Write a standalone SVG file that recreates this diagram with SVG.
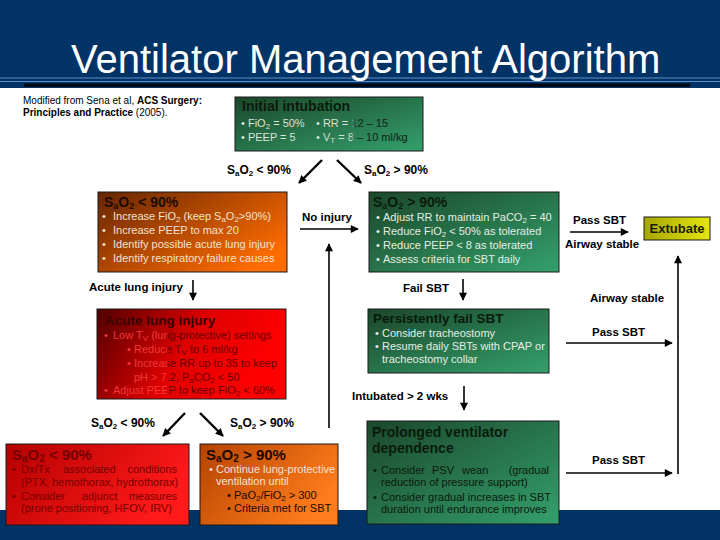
<svg xmlns="http://www.w3.org/2000/svg" width="720" height="540" viewBox="0 0 720 540">
<style>
text{font-family:"Liberation Sans",Arial,sans-serif;}
.t{font-size:11px;}
.h{font-weight:bold;font-size:14px;}
.lb{font-weight:bold;font-size:11.5px;fill:#000;}
.sa{font-weight:bold;font-size:12px;fill:#000;}
.box{stroke:#1a1a1a;stroke-width:1;}
.c{stroke:#000;stroke-width:1.6;fill:none;marker-end:url(#ah);}
.cd{stroke:#000;stroke-width:2.4;fill:none;marker-end:url(#ah);}
.lt{fill:#e4eee4;}
.dk{fill:#0b1a0e;}
.ltO{fill:#f0e2d4;}
.dkO{fill:#1c0a00;}
.rd{fill:url(#gRT);}
.rd2{fill:#760000;}
.rdh{fill:#3c0000;}
</style>
<defs>
<marker id="ah" viewBox="0 0 10 10" refX="9" refY="5" markerUnits="userSpaceOnUse" markerWidth="9" markerHeight="8" orient="auto">
<path d="M0,0 L10,5 L0,10 z" fill="#000"/>
</marker>
<linearGradient id="gG" x1="0" y1="0" x2="1" y2="1">
<stop offset="0" stop-color="#1b472a"/><stop offset="1" stop-color="#34a06c"/>
</linearGradient>
<linearGradient id="gO" x1="0" y1="0" x2="1" y2="0.7">
<stop offset="0" stop-color="#662600"/><stop offset="1" stop-color="#ff6c00"/>
</linearGradient>
<linearGradient id="gO2" x1="0" y1="0" x2="1" y2="0.5">
<stop offset="0" stop-color="#b44400"/><stop offset="1" stop-color="#ff7c1c"/>
</linearGradient>
<linearGradient id="gR" x1="0" y1="0" x2="1" y2="0.3">
<stop offset="0" stop-color="#500000"/><stop offset="0.55" stop-color="#e00000"/><stop offset="1" stop-color="#ff0000"/>
</linearGradient>
<linearGradient id="gRT" gradientUnits="userSpaceOnUse" x1="100" y1="0" x2="286" y2="0">
<stop offset="0" stop-color="#f03a3a"/><stop offset="0.36" stop-color="#f03a3a"/><stop offset="0.365" stop-color="#640000"/><stop offset="1" stop-color="#700000"/>
</linearGradient>
<linearGradient id="gR2" x1="0" y1="0" x2="1" y2="0.4">
<stop offset="0" stop-color="#b40000"/><stop offset="1" stop-color="#ff1a1a"/>
</linearGradient>
<linearGradient id="gY" x1="0" y1="0" x2="1" y2="0">
<stop offset="0" stop-color="#a6a600"/><stop offset="1" stop-color="#e6e610"/>
</linearGradient>
<linearGradient id="gTxt" gradientUnits="userSpaceOnUse" x1="240" y1="0" x2="420" y2="0">
<stop offset="0" stop-color="#e0ebe0"/><stop offset="0.62" stop-color="#d4e2d4"/><stop offset="0.64" stop-color="#12251a"/><stop offset="1" stop-color="#102014"/>
</linearGradient>
</defs>

<rect x="0" y="0" width="720" height="540" fill="#ffffff"/>
<g id="header">
<rect x="0" y="0" width="720" height="88" fill="#023366"/>
<line x1="0" y1="78" x2="720" y2="78" stroke="#5d8fc6" stroke-width="1"/>
<line x1="0" y1="81.5" x2="720" y2="81.5" stroke="#5d8fc6" stroke-width="1"/>
<rect x="24" y="83.5" width="666" height="3.5" fill="#020814"/>
<text x="71" y="73" font-size="40" fill="#ffffff">Ventilator Management Algorithm</text>
</g>
<rect id="footer" x="0" y="510" width="720" height="30" fill="#023366"/>

<g id="citation">
<text x="23" y="104" font-size="10" fill="#000">Modified from Sena et al, <tspan font-weight="bold">ACS Surgery:</tspan></text>
<text x="23" y="116" font-size="10" fill="#000"><tspan font-weight="bold">Principles and Practice</tspan> (2005).</text>
</g>

<g id="connectors">
<line class="cd" x1="322" y1="160" x2="299" y2="183"/>
<line class="cd" x1="337" y1="160" x2="361" y2="183"/>
<line class="c" x1="300" y1="229" x2="358" y2="229"/>
<line class="c" x1="329" y1="428" x2="329" y2="244"/>
<line class="c" x1="193" y1="280" x2="193" y2="300"/>
<line class="c" x1="570" y1="232" x2="628" y2="232"/>
<line class="c" x1="678" y1="474" x2="678" y2="256"/>
<line class="c" x1="463" y1="279" x2="463" y2="300"/>
<line class="cd" x1="185" y1="413" x2="163" y2="436"/>
<line class="cd" x1="200" y1="413" x2="223" y2="436"/>
<line class="c" x1="566" y1="343" x2="672" y2="343"/>
<line class="c" x1="464" y1="386" x2="464" y2="410"/>
<line class="c" x1="566" y1="473" x2="672" y2="473"/>
</g>

<g id="labels">
<text class="sa" x="227" y="174">S<tspan font-size="8" dy="2">a</tspan><tspan dy="-2">O</tspan><tspan font-size="8" dy="2">2</tspan><tspan dy="-2"> &lt; 90%</tspan></text>
<text class="sa" x="364" y="174">S<tspan font-size="8" dy="2">a</tspan><tspan dy="-2">O</tspan><tspan font-size="8" dy="2">2</tspan><tspan dy="-2"> &gt; 90%</tspan></text>
<text class="lb" x="302" y="221">No injury</text>
<text class="lb" x="89" y="291">Acute lung injury</text>
<text class="lb" x="573" y="224">Pass SBT</text>
<text class="lb" x="565" y="248">Airway stable</text>
<text class="lb" x="403" y="292">Fail SBT</text>
<text class="lb" x="590" y="302">Airway stable</text>
<text class="sa" x="91" y="427">S<tspan font-size="8" dy="2">a</tspan><tspan dy="-2">O</tspan><tspan font-size="8" dy="2">2</tspan><tspan dy="-2"> &lt; 90%</tspan></text>
<text class="sa" x="230" y="427">S<tspan font-size="8" dy="2">a</tspan><tspan dy="-2">O</tspan><tspan font-size="8" dy="2">2</tspan><tspan dy="-2"> &gt; 90%</tspan></text>
<text class="lb" x="592" y="336">Pass SBT</text>
<text class="lb" x="352" y="400">Intubated &gt; 2 wks</text>
<text class="lb" x="592" y="464">Pass SBT</text>
</g>

<g id="initial-intubation">
<rect class="box" x="235" y="97" width="188" height="54" fill="url(#gG)"/>
<text class="h dk" x="242" y="111">Initial intubation</text>
<text class="t" x="241" y="127" fill="url(#gTxt)">• FiO<tspan font-size="8" dy="2">2</tspan><tspan dy="-2"> = 50%</tspan></text>
<text class="t" x="316" y="127" fill="url(#gTxt)">• RR = 12 – 15</text>
<text class="t" x="241" y="141" fill="url(#gTxt)">• PEEP = 5</text>
<text class="t" x="316" y="141" fill="url(#gTxt)">• V<tspan font-size="8" dy="2">T</tspan><tspan dy="-2"> = 8 – 10 ml/kg</tspan></text>
</g>

<g id="sao2-low">
<rect class="box" x="98" y="192" width="189" height="80" fill="url(#gO)"/>
<text class="h dkO" x="104" y="207">S<tspan font-size="9" dy="2">a</tspan><tspan dy="-2">O</tspan><tspan font-size="9" dy="2">2</tspan><tspan dy="-2"> &lt; 90%</tspan></text>
<text class="t ltO" x="102" y="220">• <tspan x="113">Increase FiO</tspan><tspan font-size="8" dy="2">2</tspan><tspan dy="-2"> (keep S</tspan><tspan font-size="8" dy="2">a</tspan><tspan dy="-2">O</tspan><tspan font-size="8" dy="2">2</tspan><tspan dy="-2">&gt;90%)</tspan></text>
<text class="t ltO" x="102" y="234">• <tspan x="113">Increase PEEP to max 20</tspan></text>
<text class="t ltO" x="102" y="248">• <tspan x="113">Identify possible acute lung injury</tspan></text>
<text class="t ltO" x="102" y="262">• <tspan x="113">Identify respiratory failure causes</tspan></text>
</g>

<g id="sao2-high">
<rect class="box" x="369" y="192" width="190" height="80" fill="url(#gG)"/>
<text class="h dk" x="373" y="207">S<tspan font-size="9" dy="2">a</tspan><tspan dy="-2">O</tspan><tspan font-size="9" dy="2">2</tspan><tspan dy="-2"> &gt; 90%</tspan></text>
<text class="t lt" x="376" y="221">• <tspan x="383">Adjust RR to maintain PaCO</tspan><tspan font-size="8" dy="2">2</tspan><tspan dy="-2"> = 40</tspan></text>
<text class="t lt" x="376" y="235">• <tspan x="383">Reduce FiO</tspan><tspan font-size="8" dy="2">2</tspan><tspan dy="-2"> &lt; 50% as tolerated</tspan></text>
<text class="t lt" x="376" y="249">• <tspan x="383">Reduce PEEP &lt; 8 as tolerated</tspan></text>
<text class="t lt" x="376" y="263">• <tspan x="383">Assess criteria for SBT daily</tspan></text>
</g>

<g id="extubate">
<rect class="box" x="644" y="217" width="66" height="23" fill="url(#gY)"/>
<text x="677" y="233" font-size="13" font-weight="bold" fill="#1a1a00" text-anchor="middle">Extubate</text>
</g>

<g id="acute-lung-injury">
<rect class="box" x="97" y="309" width="189" height="90" fill="url(#gR)"/>
<text class="rdh" x="105" y="325" font-size="13.5" font-weight="bold">Acute lung injury</text>
<text class="t rd" x="104" y="339">• <tspan x="113">Low T</tspan><tspan font-size="8" dy="2">V</tspan><tspan dy="-2"> (lung-protective) settings</tspan></text>
<text class="t rd" x="127" y="353">• <tspan x="134">Reduce T</tspan><tspan font-size="8" dy="2">V</tspan><tspan dy="-2"> to 6 ml/kg</tspan></text>
<text class="t rd" x="127" y="367">• <tspan x="134">Increase RR up to 35 to keep</tspan></text>
<text class="t rd" x="134" y="381">pH &gt; 7.2, P<tspan font-size="8" dy="2">a</tspan><tspan dy="-2">CO</tspan><tspan font-size="8" dy="2">2</tspan><tspan dy="-2"> &lt; 50</tspan></text>
<text class="t rd" x="104" y="394">• <tspan x="113">Adjust PEEP to keep FiO</tspan><tspan font-size="8" dy="2">2</tspan><tspan dy="-2"> &lt; 60%</tspan></text>
</g>

<g id="persistently-fail">
<rect class="box" x="368" y="309" width="181" height="64" fill="url(#gG)"/>
<text class="dk" x="373" y="323" font-size="13.5" font-weight="bold">Persistently fail SBT</text>
<text class="t lt" x="375" y="337">• <tspan x="382">Consider tracheostomy</tspan></text>
<text class="t lt" x="375" y="350">• <tspan x="382">Resume daily SBTs with CPAP or</tspan></text>
<text class="t lt" x="382" y="363">tracheostomy collar</text>
</g>

<g id="low-sao2-ali">
<rect class="box" x="6" y="444" width="183" height="81" fill="url(#gR2)"/>
<text class="rd2" x="12" y="460" font-size="15" font-weight="bold">S<tspan font-size="10" dy="2">a</tspan><tspan dy="-2">O</tspan><tspan font-size="10" dy="2">2</tspan><tspan dy="-2"> &lt; 90%</tspan></text>
<text class="t rd2" y="473"><tspan x="12">•</tspan><tspan x="21">Dx/Tx</tspan><tspan x="63">associated</tspan></text>
<text class="t rd2" x="177" y="473" text-anchor="end">conditions</text>
<text class="t rd2" x="21" y="486">(PTX, hemothorax, hydrothorax)</text>
<text class="t rd2" y="500"><tspan x="12">•</tspan><tspan x="21">Consider</tspan><tspan x="82">adjunct</tspan></text>
<text class="t rd2" x="177" y="500" text-anchor="end">measures</text>
<text class="t rd2" x="21" y="512">(prone positioning, HFOV, IRV)</text>
</g>

<g id="high-sao2-ali">
<rect class="box" x="200" y="444" width="138" height="81" fill="url(#gO2)"/>
<text class="dkO" x="206" y="460" font-size="15" font-weight="bold">S<tspan font-size="10" dy="2">a</tspan><tspan dy="-2">O</tspan><tspan font-size="10" dy="2">2</tspan><tspan dy="-2"> &gt; 90%</tspan></text>
<text class="t ltO" x="209" y="473">• <tspan x="216">Continue lung-protective</tspan></text>
<text class="t ltO" x="216" y="485">ventilation until</text>
<text class="t dkO" x="227" y="499">• <tspan x="234">PaO</tspan><tspan font-size="8" dy="2">2</tspan><tspan dy="-2">/FiO</tspan><tspan font-size="8" dy="2">2</tspan><tspan dy="-2"> &gt; 300</tspan></text>
<text class="t dkO" x="227" y="512">• <tspan x="234">Criteria met for SBT</tspan></text>
</g>

<g id="prolonged">
<rect class="box" x="367" y="421" width="192" height="103" fill="url(#gG)"/>
<text class="h dk" x="372" y="437">Prolonged ventilator</text>
<text class="h dk" x="372" y="453">dependence</text>
<text class="t dk" y="474"><tspan x="373">•</tspan><tspan x="381">Consider</tspan><tspan x="432">PSV</tspan><tspan x="462">wean</tspan></text>
<text class="t dk" x="549" y="474" text-anchor="end">(gradual</text>
<text class="t dk" x="381" y="486">reduction of pressure support)</text>
<text class="t dk" y="501"><tspan x="373">•</tspan><tspan x="381">Consider gradual increases in SBT</tspan></text>
<text class="t dk" x="381" y="513">duration until endurance improves</text>
</g>
</svg>
